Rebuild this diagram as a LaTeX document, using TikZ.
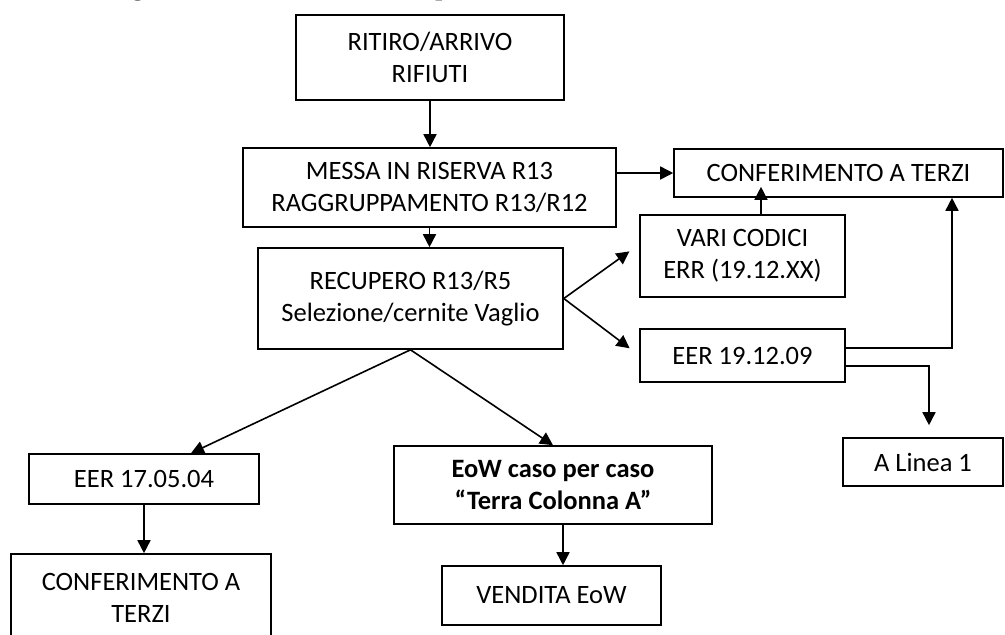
\documentclass[tikz,border=0pt]{standalone}
\usepackage{fontspec}
\setmainfont{Carlito}
\newfontfamily\titlefont{Liberation Serif}
\usetikzlibrary{arrows.meta}

\begin{document}
\begin{tikzpicture}[x=1pt,y=-1pt,line width=1.6pt,
	box/.style={draw,rectangle,inner sep=0pt,align=center,font=\fontsize{26.5}{32}\selectfont},
	arr/.style={-{Triangle[length=13pt,width=13pt]}}]
	\useasboundingbox (0,0) rectangle (1005,635); %page
	
	%title, cut off at the top
	\node[anchor=base,font=\titlefont\bfseries\fontsize{25}{28}\selectfont] (title) at (415,-5) {Diagramma di flusso EoW caso per caso “Terra Colonna A”};
	
	%main column
	\node[box,minimum width=268pt,minimum height=85pt] (ritiro) at (430,57.5) {RITIRO/ARRIVO\\RIFIUTI}; %start
	\node[box,minimum width=373pt,minimum height=79pt] (messa) at (429.5,187.5) {MESSA IN RISERVA R13\\RAGGRUPPAMENTO R13/R12}; %riserva
	\node[box,minimum width=305pt,minimum height=101pt] (recupero) at (410.5,298.5) {RECUPERO R13/R5\\Selezione/cernite Vaglio}; %recupero
	
	%right side
	\node[box,minimum width=329pt,minimum height=48pt] (conf) at (838.5,173) {CONFERIMENTO A TERZI}; %terzi top
	\node[box,minimum width=205pt,minimum height=82pt] (vari) at (742.5,256) {VARI CODICI\\ERR (19.12.XX)}; %vari codici
	\node[box,minimum width=205pt,minimum height=53pt] (eer19) at (742.5,355.5) {EER 19.12.09}; %19.12.09
	\node[box,minimum width=160pt,minimum height=48pt] (linea) at (923,462) {A Linea 1}; %linea 1
	
	%bottom
	\node[box,minimum width=230pt,minimum height=50pt] (eer17) at (144,479) {EER 17.05.04}; %17.05.04
	\node[box,minimum width=318pt,minimum height=78pt,font=\fontsize{26.5}{32}\selectfont\bfseries] (eow) at (553,485) {EoW caso per caso\\“Terra Colonna A”}; %eow
	\node[box,minimum width=260pt,minimum height=87pt] (conf2) at (141,597.5) {CONFERIMENTO A\\TERZI}; %terzi bottom
	\node[box,minimum width=219pt,minimum height=59pt] (vendita) at (551.5,595.5) {VENDITA EoW}; %vendita
	
	%arrows
	\draw[arr] (ritiro.south) -- (ritiro.south |- messa.north);
	\draw[arr] (messa.south) -- (messa.south |- recupero.north);
	\draw[arr] (messa.east |- conf.west) -- (conf.west);
	\draw[arr,shorten >=-11pt] ([xshift=18.5pt]vari.north) -- ([xshift=18.5pt]vari.north |- conf.south);
	\draw[arr,shorten >=12pt] (recupero.east) -- ([yshift=11.6pt]vari.west);
	\draw[arr,shorten >=12pt] (recupero.east) -- (eer19.west);
	\draw[arr] ([yshift=7.5pt]eer19.east) -| ([xshift=113.5pt]conf.south);
	\draw[arr,shorten >=12pt] ([yshift=-10.5pt]eer19.east) -| ([xshift=6pt]linea.north);
	\draw[arr] (recupero.south) -- ([xshift=47pt]eer17.north);
	\draw[arr] (recupero.south) -- (eow.north);
	\draw[arr] (eer17.south) -- (eer17.south |- conf2.north);
	\draw[arr] ([xshift=10pt]eow.south) -- ([xshift=10pt]eow.south |- vendita.north);
\end{tikzpicture}
\end{document}
